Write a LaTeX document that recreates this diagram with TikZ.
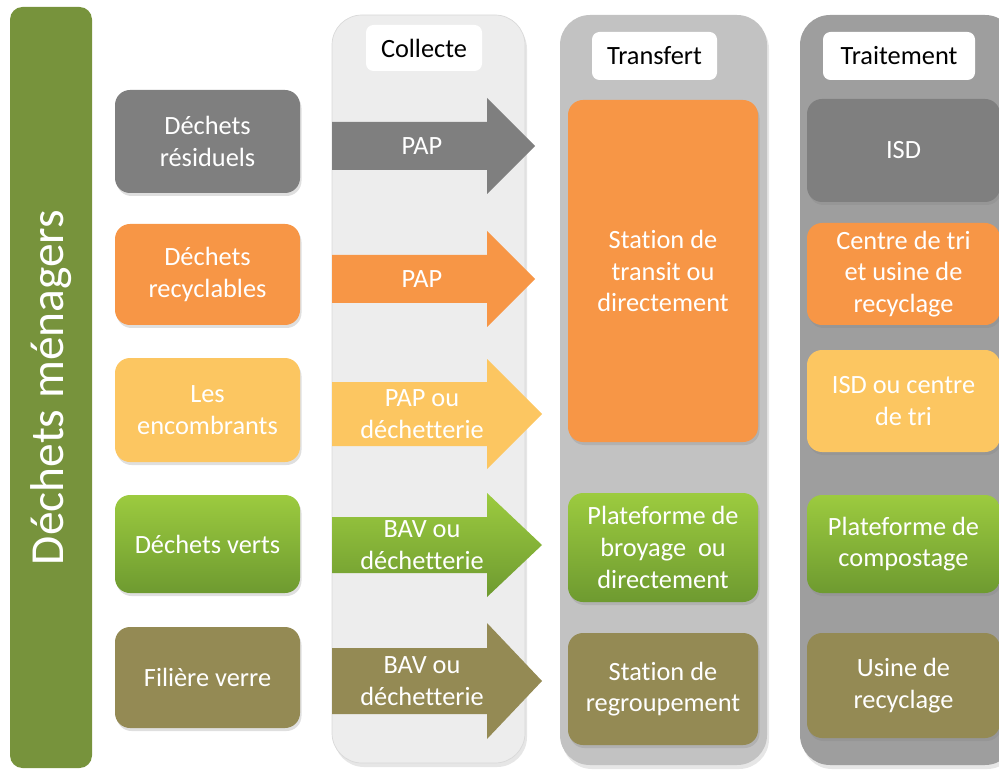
\documentclass[tikz,border=0pt]{standalone}
\usepackage{fontspec}
\setmainfont{Carlito}[Ligatures=NoCommon]
\usepackage{tikz}
\usetikzlibrary{positioning,shadows,calc}

\definecolor{cbarre}{HTML}{77933C}
\definecolor{cgris}{HTML}{7F7F7F}
\definecolor{corange}{HTML}{F79646}
\definecolor{cjaune}{HTML}{FCC661}
\definecolor{cvertH}{HTML}{9CCB3F}
\definecolor{cvertB}{HTML}{6E9A30}
\definecolor{colive}{HTML}{948A54}
\definecolor{ccollecte}{HTML}{EDEDED}
\definecolor{ctransfert}{HTML}{C2C2C2}
\definecolor{ctraitement}{HTML}{9E9E9E}

\tikzset{
  boite/.style={rectangle, rounded corners=0.3cm, text=white, align=center,
    font=\fontsize{15}{18}\selectfont,
    drop shadow={opacity=0.25, shadow xshift=0.3mm, shadow yshift=-0.6mm}},
  titre/.style={rectangle, rounded corners=0.15cm, fill=white, text=black,
    font=\fontsize{15}{18}\selectfont},
  colonne/.style={rectangle, rounded corners=0.6cm,
    drop shadow={opacity=0.2, shadow xshift=0.4mm, shadow yshift=-0.8mm}},
  fleche/.style={text=white, align=center, font=\fontsize{15}{18}\selectfont},
  fgris/.style={fill=cgris},
  forange/.style={fill=corange},
  fjaune/.style={fill=cjaune},
  fvert/.style={top color=cvertH, bottom color=cvertB},
  folive/.style={fill=colive},
  vert/.style={top color=cvertH, bottom color=cvertB},
}

\begin{document}
\begin{tikzpicture}[x=0.02cm, y=-0.02cm]

\newcommand{\px}{0.02cm}

\useasboundingbox (0,0) rectangle (999,776);
\clip (0,0) rectangle (999,776);

% barre verticale
\node[rectangle, rounded corners=0.25cm, fill=cbarre, text=white, rotate=90,
  minimum width=761*\px, minimum height=82*\px,
  font=\fontsize{27}{30}\selectfont] (menagers) at (51,387.5) {Déchets ménagers};

% colonnes
\node[colonne, fill=ccollecte, draw=gray!30, minimum width=193*\px, minimum height=748*\px] (collecte) at (428.5,389) {};
\node[colonne, fill=ctransfert, minimum width=207*\px, minimum height=750*\px] (transfert) at (663.5,390) {};
\node[colonne, fill=ctraitement, minimum width=215*\px, minimum height=750*\px] (traitement) at (907.5,390) {};

\node[titre, minimum width=116*\px, minimum height=46*\px] (tcollecte) at (424,48) {Collecte};
\node[titre, minimum width=125*\px, minimum height=48*\px] (ttransfert) at (654.5,56) {Transfert};
\node[titre, minimum width=152*\px, minimum height=48*\px] (ttraitement) at (899,56) {Traitement};

% types de dechets
\node[boite, fill=cgris, minimum width=185*\px, minimum height=103*\px] (residuels) at (207.5,141.5) {Déchets\\résiduels};
\node[boite, fill=corange, minimum width=185*\px, minimum height=101*\px] (recyclables) at (207.5,274.5) {Déchets\\recyclables};
\node[boite, fill=cjaune, minimum width=185*\px, minimum height=104*\px] (encombrants) at (207.5,410) {Les\\encombrants};
\node[boite, vert, minimum width=185*\px, minimum height=98*\px] (verts) at (207.5,544) {Déchets verts};
\node[boite, fill=colive, minimum width=185*\px, minimum height=101*\px] (verre) at (207.5,677.5) {Filière verre};

% fleches de collecte
\foreach \nom/\yc/\bd/\hd/\tip/\coul/\txt in {
  pap1/146/24/48/535/fgris/{PAP},
  pap2/279/24/48/535/forange/{PAP},
  pap3/414/32/55/542/fjaune/{PAP ou\\déchetterie},
  bav1/545/28/52/542/fvert/{BAV ou\\déchetterie},
  bav2/681/33/58/542/folive/{BAV ou\\déchetterie}}
{
  \path[\coul] (332,\yc-\bd) -- (487,\yc-\bd) -- (487,\yc-\hd) -- (\tip,\yc)
    -- (487,\yc+\hd) -- (487,\yc+\bd) -- (332,\yc+\bd) -- cycle;
  \node[fleche] (\nom) at (422,\yc) {\txt};
}

% transfert
\node[boite, fill=corange, minimum width=190*\px, minimum height=342*\px] (transit) at (663,271) {Station de\\transit ou\\directement};
\node[boite, vert, minimum width=190*\px, minimum height=109*\px] (broyage) at (663,547.5) {Plateforme de\\broyage~ ou\\directement};
\node[boite, fill=colive, minimum width=190*\px, minimum height=112*\px] (regroupement) at (663,689) {Station de\\regroupement};

% traitement
\node[boite, fill=cgris, minimum width=193*\px, minimum height=103*\px] (isd) at (903.5,150.5) {ISD};
\node[boite, fill=corange, minimum width=193*\px, minimum height=102*\px] (tri) at (903.5,274) {Centre de tri\\et usine de\\recyclage};
\node[boite, fill=cjaune, minimum width=193*\px, minimum height=102*\px] (isdtri) at (903.5,401) {ISD ou centre\\de tri};
\node[boite, vert, minimum width=193*\px, minimum height=98*\px] (compostage) at (903.5,544) {Plateforme de\\compostage};
\node[boite, fill=colive, minimum width=193*\px, minimum height=105*\px] (usine) at (903.5,685.5) {Usine de\\recyclage};

\end{tikzpicture}
\end{document}
